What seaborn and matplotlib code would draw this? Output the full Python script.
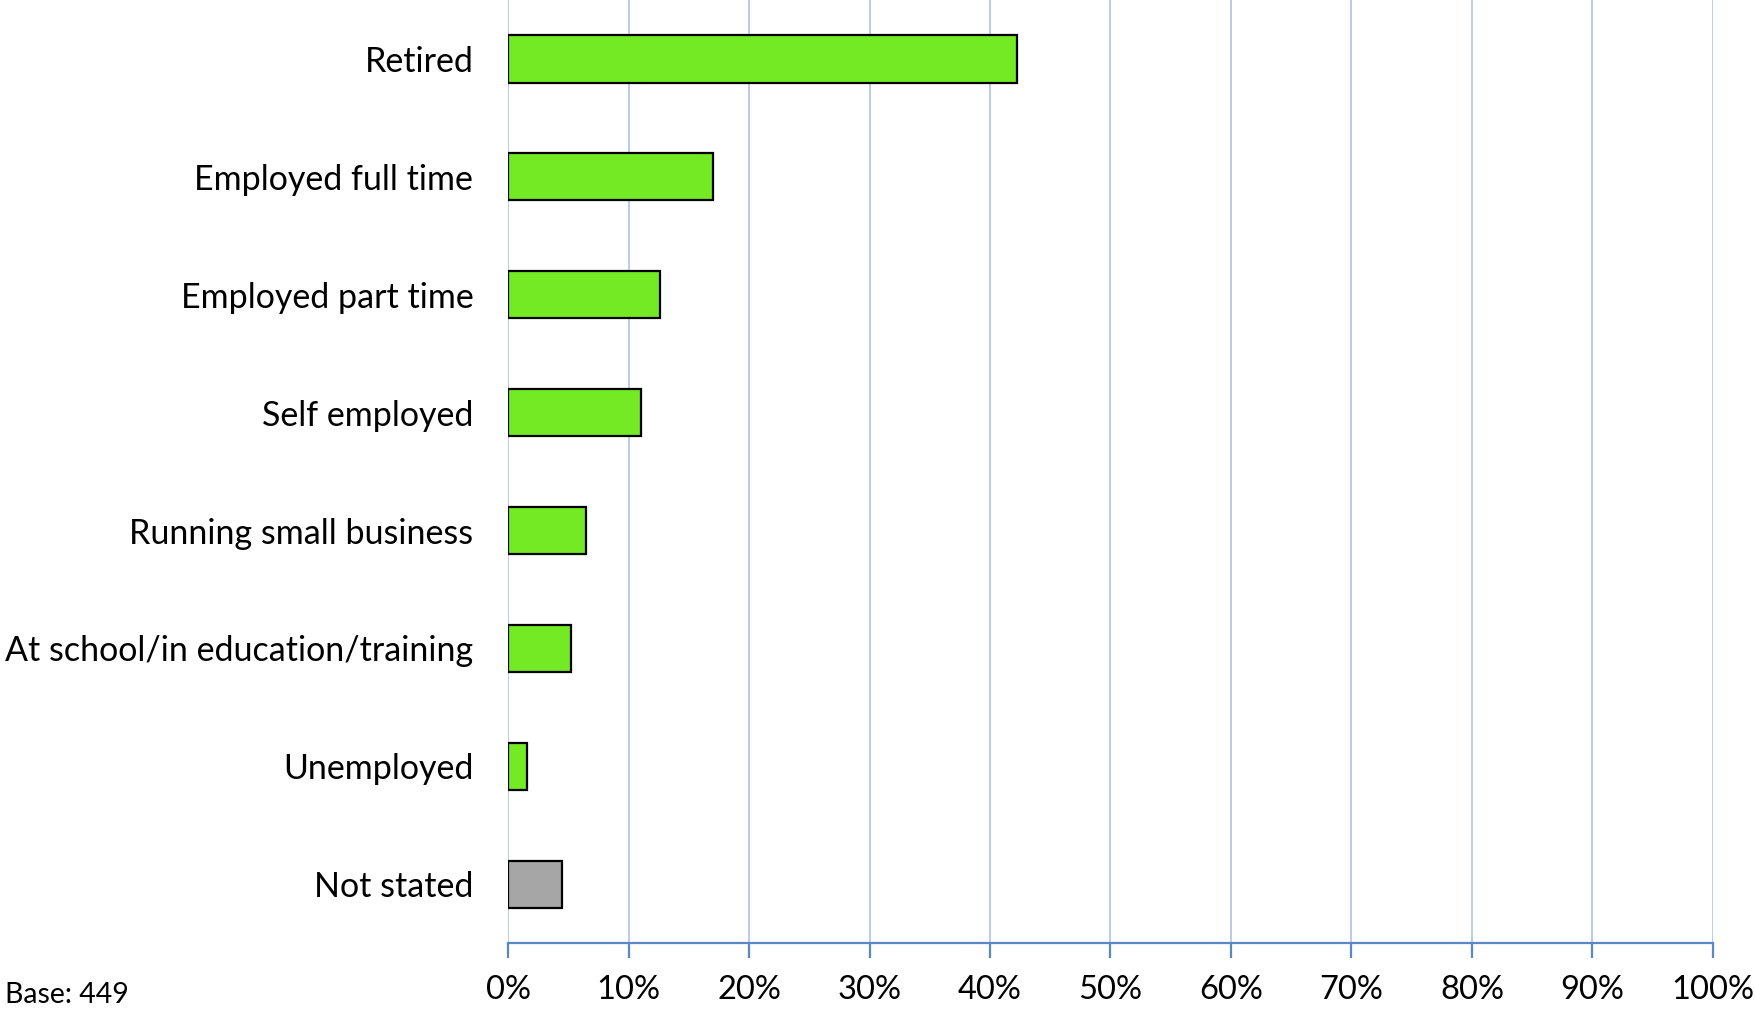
import matplotlib
matplotlib.use("Agg")
import matplotlib.pyplot as plt
import seaborn as sns
import pandas as pd
from matplotlib.ticker import FuncFormatter

categories = [
    "Retired",
    "Employed full time",
    "Employed part time",
    "Self employed",
    "Running small business",
    "At school/in education/training",
    "Unemployed",
    "Not stated",
]
shares = [42.2, 17.0, 12.6, 11.0, 6.5, 5.2, 1.6, 4.5]
groups = ["answer"] * 7 + ["none"]
x_ticks = list(range(0, 101, 10))
base_note = "Base: 449"

sns.set_theme(style="white")
plt.rcParams["font.family"] = ["Lato", "DejaVu Sans"]

df = pd.DataFrame({"status": categories, "share": shares, "group": groups})

fig = plt.figure(figsize=(17.55, 10.11), dpi=100)
ax = fig.add_axes([0.2895, 0.067, 0.6865, 0.933])

sns.barplot(
    data=df, y="status", x="share", hue="group", orient="h",
    palette={"answer": "#73EA24", "none": "#A6A6A6"}, saturation=1,
    dodge=False, width=0.4, edgecolor="black", linewidth=1.6,
    legend=False, ax=ax, zorder=3,
)

ax.set_xlim(0, 100)
ax.set_ylim(len(categories) - 0.5, -0.5)
ax.set_xticks(x_ticks)
ax.xaxis.set_major_formatter(FuncFormatter(lambda v, _: f"{v:.0f}%"))
ax.set_xlabel("")
ax.set_ylabel("")

ax.grid(axis="x", color="#B9CBEA", linewidth=1.4, zorder=0)
ax.grid(axis="y", visible=False)
for side in ["top", "right", "left"]:
    ax.spines[side].set_visible(False)
ax.spines["bottom"].set_color("#5A88C6")
ax.spines["bottom"].set_linewidth(1.6)

ax.tick_params(axis="x", which="major", direction="out", length=11, width=1.6,
               color="#5A88C6", labelsize=23.5, pad=12, labelcolor="black",
               bottom=True)
ax.tick_params(axis="y", length=0, labelsize=24.5, pad=25, labelcolor="black")

fig.text(0.003, 0.003, base_note, ha="left", va="bottom", fontsize=20.5, color="black")

fig.savefig("out.png", dpi=100)
